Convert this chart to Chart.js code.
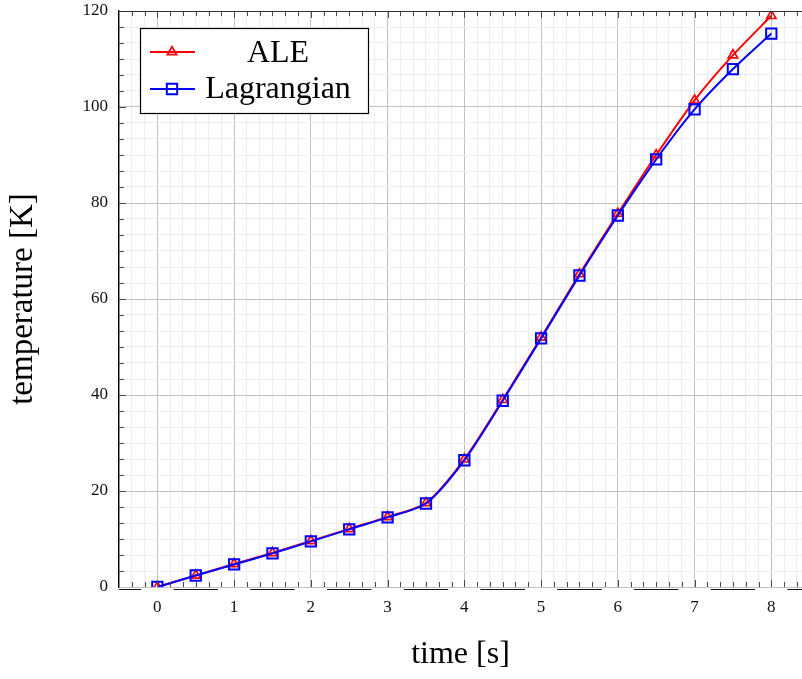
<!DOCTYPE html>
<html>
<head>
<meta charset="utf-8">
<title>temperature vs time</title>
<script src="https://cdn.jsdelivr.net/npm/chart.js@4.4.1/dist/chart.umd.min.js"></script>
<style>
  html, body { margin: 0; padding: 0; background: #ffffff; }
  #wrap { width: 802px; height: 679px; }
</style>
</head>
<body>
<div id="wrap"><canvas id="c" width="802" height="679"></canvas></div>
<script>
// Sample times [s]
const times = [0, 0.5, 1, 1.5, 2, 2.5, 3, 3.5, 4, 4.5, 5, 5.5, 6, 6.5, 7, 7.5, 8];
// Temperature [K] of each formulation
const aleTemp = [0, 2.4, 4.8, 7.1, 9.6, 12.1, 14.6, 17.5, 26.6, 39.0, 52.0, 65.2, 77.8, 90.0, 101.4, 110.8, 119.0];
const lagTemp = [0, 2.4, 4.7, 7.0, 9.5, 12.0, 14.5, 17.4, 26.4, 38.8, 51.8, 64.9, 77.4, 89.1, 99.5, 107.9, 115.3];
// Labelled ticks
const xTickLabels = ['0', '1', '2', '3', '4', '5', '6', '7', '8'];
const yTickLabels = ['0', '20', '40', '60', '80', '100', '120'];
const seriesNames = ['ALE', 'Lagrangian'];

const SERIF = '"Liberation Serif", "Times New Roman", serif';
const xMajor = xTickLabels.map(Number);
const yMajor = yTickLabels.map(Number);
const xStep = xMajor[1] - xMajor[0];
const yStep = yMajor[1] - yMajor[0];
const MINOR_DIV = 6;

const near = (a, b) => Math.abs(a - b) < 1e-7;
const isMajorX = v => xMajor.some(m => near(m, v));
const isMajorY = v => yMajor.some(m => near(m, v));

function gridTicks(min, max, step) {
  const out = [];
  const sub = step / MINOR_DIV;
  const k0 = Math.ceil(min / sub - 1e-9), k1 = Math.floor(max / sub + 1e-9);
  for (let k = k0; k <= k1; k++) out.push({ value: k * sub });
  return out;
}

const toPoints = ys => times.map((t, i) => ({ x: t, y: ys[i] }));

// Inward tick marks, the top frame line and the broken bottom rule
const axisDecor = {
  id: 'axisDecor',
  afterDraw(chart) {
    const { ctx, chartArea: a, scales: { x, y } } = chart;
    ctx.save();
    ctx.strokeStyle = '#4a4a4a';
    ctx.lineWidth = 1;
    x.ticks.forEach(t => {
      const px = Math.round(x.getPixelForValue(t.value)) + 0.5;
      if (px < a.left + 1 || px > a.right - 1) return;
      const len = isMajorX(t.value) ? 7 : 5;
      ctx.beginPath();
      ctx.moveTo(px, a.top); ctx.lineTo(px, a.top + len);
      ctx.moveTo(px, a.bottom); ctx.lineTo(px, a.bottom - len);
      ctx.stroke();
    });
    y.ticks.forEach(t => {
      const py = Math.round(y.getPixelForValue(t.value)) + 0.5;
      if (py < a.top + 1 || py > a.bottom - 1) return;
      const len = isMajorY(t.value) ? 7 : 5;
      ctx.beginPath();
      ctx.moveTo(a.left, py); ctx.lineTo(a.left + len, py);
      ctx.stroke();
    });
    // top frame
    ctx.strokeStyle = '#333333';
    ctx.lineWidth = 1.2;
    ctx.beginPath();
    ctx.moveTo(a.left, a.top + 0.5); ctx.lineTo(a.right, a.top + 0.5);
    ctx.stroke();
    // bottom rule, broken around each labelled tick
    ctx.strokeStyle = '#1a1a1a';
    ctx.lineWidth = 1;
    const yb = a.bottom + 2.5;
    for (let m = Math.floor(x.min) - 1; m <= Math.ceil(x.max); m++) {
      let p0 = x.getPixelForValue(m + 0.21 * xStep);
      let p1 = x.getPixelForValue(m + 0.79 * xStep);
      p0 = Math.max(p0, a.left); p1 = Math.min(p1, a.right);
      if (p1 <= p0) continue;
      ctx.beginPath(); ctx.moveTo(p0, yb); ctx.lineTo(p1, yb); ctx.stroke();
    }
    ctx.restore();
  }
};

// Boxed legend placed inside the plot area
const boxLegend = {
  id: 'boxLegend',
  afterDraw(chart) {
    const { ctx, chartArea: a } = chart;
    const bx = a.left + 21, by = a.top + 17, bw = 228, bh = 85;
    ctx.save();
    ctx.fillStyle = '#ffffff';
    ctx.fillRect(bx, by, bw, bh);
    ctx.strokeStyle = '#000000';
    ctx.lineWidth = 1.2;
    ctx.strokeRect(bx + 0.5, by + 0.5, bw, bh);
    const rows = [by + 24, by + 61];
    const baselines = [by + 34, by + 70];
    seriesNames.forEach((name, i) => {
      const ds = chart.data.datasets.find(d => d.label === name);
      const cy = rows[i];
      ctx.strokeStyle = ds.borderColor;
      ctx.lineWidth = ds.borderWidth;
      ctx.beginPath();
      ctx.moveTo(bx + 10, cy); ctx.lineTo(bx + 55, cy);
      ctx.stroke();
      ctx.fillStyle = 'rgba(255,255,255,0)';
      ctx.strokeStyle = ds.pointBorderColor;
      ctx.lineWidth = ds.pointBorderWidth;
      Chart.helpers.drawPoint(ctx, {
        pointStyle: ds.pointStyle, radius: ds.pointRadius,
        borderWidth: ds.pointBorderWidth, rotation: 0
      }, bx + 32, cy);
      ctx.fillStyle = '#000000';
      ctx.font = '32px ' + SERIF;
      ctx.textAlign = 'center';
      ctx.textBaseline = 'alphabetic';
      ctx.fillText(ds.label, bx + 138, baselines[i]);
    });
    ctx.restore();
  }
};

new Chart(document.getElementById('c'), {
  type: 'line',
  data: {
    datasets: [
      {
        label: seriesNames[0],
        data: toPoints(aleTemp),
        order: 1,
        borderColor: '#ff0000',
        borderWidth: 2,
        pointStyle: 'triangle',
        pointRadius: 5.4,
        pointBorderWidth: 1.7,
        pointBorderColor: '#ff0000',
        pointBackgroundColor: 'rgba(255,255,255,0)',
        tension: 0.25,
        fill: false
      },
      {
        label: seriesNames[1],
        data: toPoints(lagTemp),
        order: 0,
        borderColor: '#0000ff',
        borderWidth: 2,
        pointStyle: 'rect',
        pointRadius: 7.3,
        pointBorderWidth: 2,
        pointBorderColor: '#0000ff',
        pointBackgroundColor: 'rgba(255,255,255,0)',
        tension: 0.25,
        fill: false
      }
    ]
  },
  options: {
    responsive: false,
    animation: false,
    devicePixelRatio: 1,
    layout: { autoPadding: false, padding: { top: 11, right: 0, bottom: 0, left: 0 } },
    plugins: {
      legend: { display: false },
      tooltip: { enabled: false }
    },
    scales: {
      x: {
        type: 'linear',
        min: -0.5,
        max: 8.4,
        afterBuildTicks: s => { s.ticks = gridTicks(s.min, s.max, xStep); },
        afterFit: s => { s.height = 92; s.paddingLeft = 0; s.paddingRight = 0; },
        grid: {
          drawTicks: false,
          lineWidth: 1,
          color: c => isMajorX(c.tick.value) ? '#c2c2c2' : '#ededed'
        },
        border: { display: false },
        ticks: {
          autoSkip: false,
          maxRotation: 0,
          padding: 10,
          color: '#111111',
          font: { family: SERIF, size: 17 },
          callback: v => isMajorX(v) ? String(Math.round(v)) : ''
        },
        title: {
          display: true,
          text: 'time [s]',
          color: '#000000',
          font: { family: SERIF, size: 32 },
          padding: { top: 0, bottom: 5 }
        }
      },
      y: {
        type: 'linear',
        min: 0,
        max: 120,
        afterBuildTicks: s => { s.ticks = gridTicks(s.min, s.max, yStep); },
        afterFit: s => { s.width = 119; s.paddingTop = 0; s.paddingBottom = 0; },
        grid: {
          drawTicks: false,
          lineWidth: 1,
          color: c => isMajorY(c.tick.value) ? '#c2c2c2' : '#ededed'
        },
        border: { display: true, color: '#000000', width: 1.4 },
        ticks: {
          autoSkip: false,
          padding: 11,
          color: '#111111',
          font: { family: SERIF, size: 17 },
          callback: v => isMajorY(v) ? String(Math.round(v)) : ''
        },
        title: {
          display: true,
          text: 'temperature [K]',
          color: '#000000',
          font: { family: SERIF, size: 33 },
          padding: { top: 4, bottom: 0 }
        }
      }
    }
  },
  plugins: [axisDecor, boxLegend]
});
</script>
</body>
</html>
